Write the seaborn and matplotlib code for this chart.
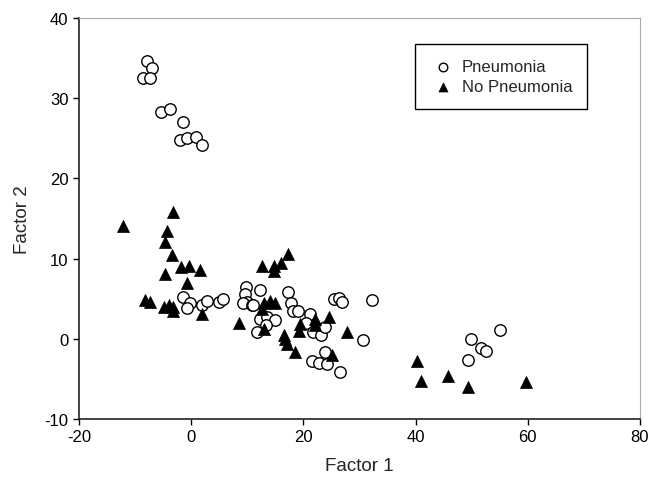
import matplotlib
matplotlib.use("Agg")
import matplotlib.pyplot as plt
import seaborn as sns
import pandas as pd

# Pneumonia group (open circles)
pn_x = [-7.8, -7.0, -8.6, -7.3, -5.4, -3.7, -1.5, -2.0, -0.7, 0.8, 2.0,
        -1.4, -0.2, -0.8, 1.9, 2.9, 4.9, 5.6,
        9.8, 9.6, 12.2, 9.9, 9.3, 10.8, 11.1, 17.2, 17.8, 18.2, 19.1,
        12.2, 13.5, 15.0, 11.8, 13.4,
        21.2, 20.5, 21.8, 23.2, 23.9, 25.4, 26.3, 26.9, 32.2, 30.7,
        23.9, 21.5, 22.7, 24.2, 26.6,
        55.1, 49.8, 51.7, 52.5, 49.3]
pn_y = [34.6, 33.7, 32.5, 32.5, 28.3, 28.6, 27.0, 24.8, 25.0, 25.1, 24.2,
        5.2, 4.4, 3.8, 4.2, 4.7, 4.6, 4.9,
        6.4, 5.6, 6.1, 4.6, 4.4, 4.2, 4.2, 5.8, 4.4, 3.5, 3.5,
        2.5, 2.7, 2.4, 0.8, 1.7,
        3.1, 2.0, 0.9, 0.5, 1.5, 5.0, 5.1, 4.6, 4.8, -0.1,
        -1.7, -2.8, -3.0, -3.1, -4.1,
        1.1, 0.0, -1.1, -1.5, -2.7]

# No pneumonia group (filled triangles)
np_x = [-3.2, -12.1, -4.3, -4.6, -3.4, -1.8, -0.3, 1.5, -4.6, -0.8,
        -8.3, -7.3, -4.9, -4.0, -3.3, -3.2, 1.9, 8.6,
        12.7, 14.7, 14.8, 16.0, 17.3, 12.9, 14.0, 15.0, 12.6, 12.9,
        19.4, 19.3, 22.1, 22.1, 24.5, 27.8, 16.5, 16.8, 17.1, 18.5, 25.1,
        40.3, 40.9, 45.7, 49.4, 59.6]
np_y = [15.8, 14.1, 13.4, 12.1, 10.5, 9.0, 9.1, 8.6, 8.1, 7.0,
        4.8, 4.6, 4.0, 4.2, 4.0, 3.5, 3.1, 2.0,
        9.1, 9.1, 8.5, 9.4, 10.6, 4.4, 4.7, 4.4, 3.7, 1.2,
        1.9, 1.0, 2.5, 1.7, 2.7, 0.8, 0.5, 0.0, -0.6, -1.7, -2.0,
        -2.8, -5.3, -4.7, -6.0, -5.4]

pn_df = pd.DataFrame({"Factor 1": pn_x, "Factor 2": pn_y})
np_df = pd.DataFrame({"Factor 1": np_x, "Factor 2": np_y})

sns.set_style("ticks")
plt.rcParams["font.family"] = ["Liberation Sans", "DejaVu Sans"]
plt.rcParams["axes.unicode_minus"] = False

fig = plt.figure(figsize=(6.49, 4.85), dpi=100)
ax = fig.add_axes([0.1217, 0.134, 0.8644, 0.827])

sns.scatterplot(data=pn_df, x="Factor 1", y="Factor 2", ax=ax, marker="o",
                s=68, facecolor="white", edgecolor="black", linewidth=1.0,
                label="Pneumonia", zorder=3)
sns.scatterplot(data=np_df, x="Factor 1", y="Factor 2", ax=ax, marker="^",
                s=75, color="black", edgecolor="black", linewidth=0.5,
                label="No Pneumonia", zorder=3)

ax.set_xlim(-20, 80)
ax.set_ylim(-10, 40)
ax.set_xticks([-20, 0, 20, 40, 60, 80])
ax.set_yticks([-10, 0, 10, 20, 30, 40])
ax.tick_params(direction="out", length=4, width=1, labelsize=12, colors="black")
ax.set_xlabel("Factor 1", fontsize=13.5, labelpad=9)
ax.set_ylabel("Factor 2", fontsize=13.5, labelpad=10)

for side in ["left", "bottom"]:
    ax.spines[side].set_color("#222222")
    ax.spines[side].set_linewidth(1.2)
for side in ["top", "right"]:
    ax.spines[side].set_visible(True)
    ax.spines[side].set_color("#aaaaaa")
    ax.spines[side].set_linewidth(0.8)

leg = ax.legend(loc="upper left", bbox_to_anchor=(0.599, 0.935), borderaxespad=0,
                fontsize=12, frameon=True, fancybox=False, edgecolor="black",
                borderpad=0.9, handletextpad=0.4, labelspacing=0.3,
                handlelength=1.5, markerscale=0.75)
leg.get_frame().set_linewidth(1.0)
leg.get_frame().set_alpha(1)

fig.savefig("out.png", dpi=100)
